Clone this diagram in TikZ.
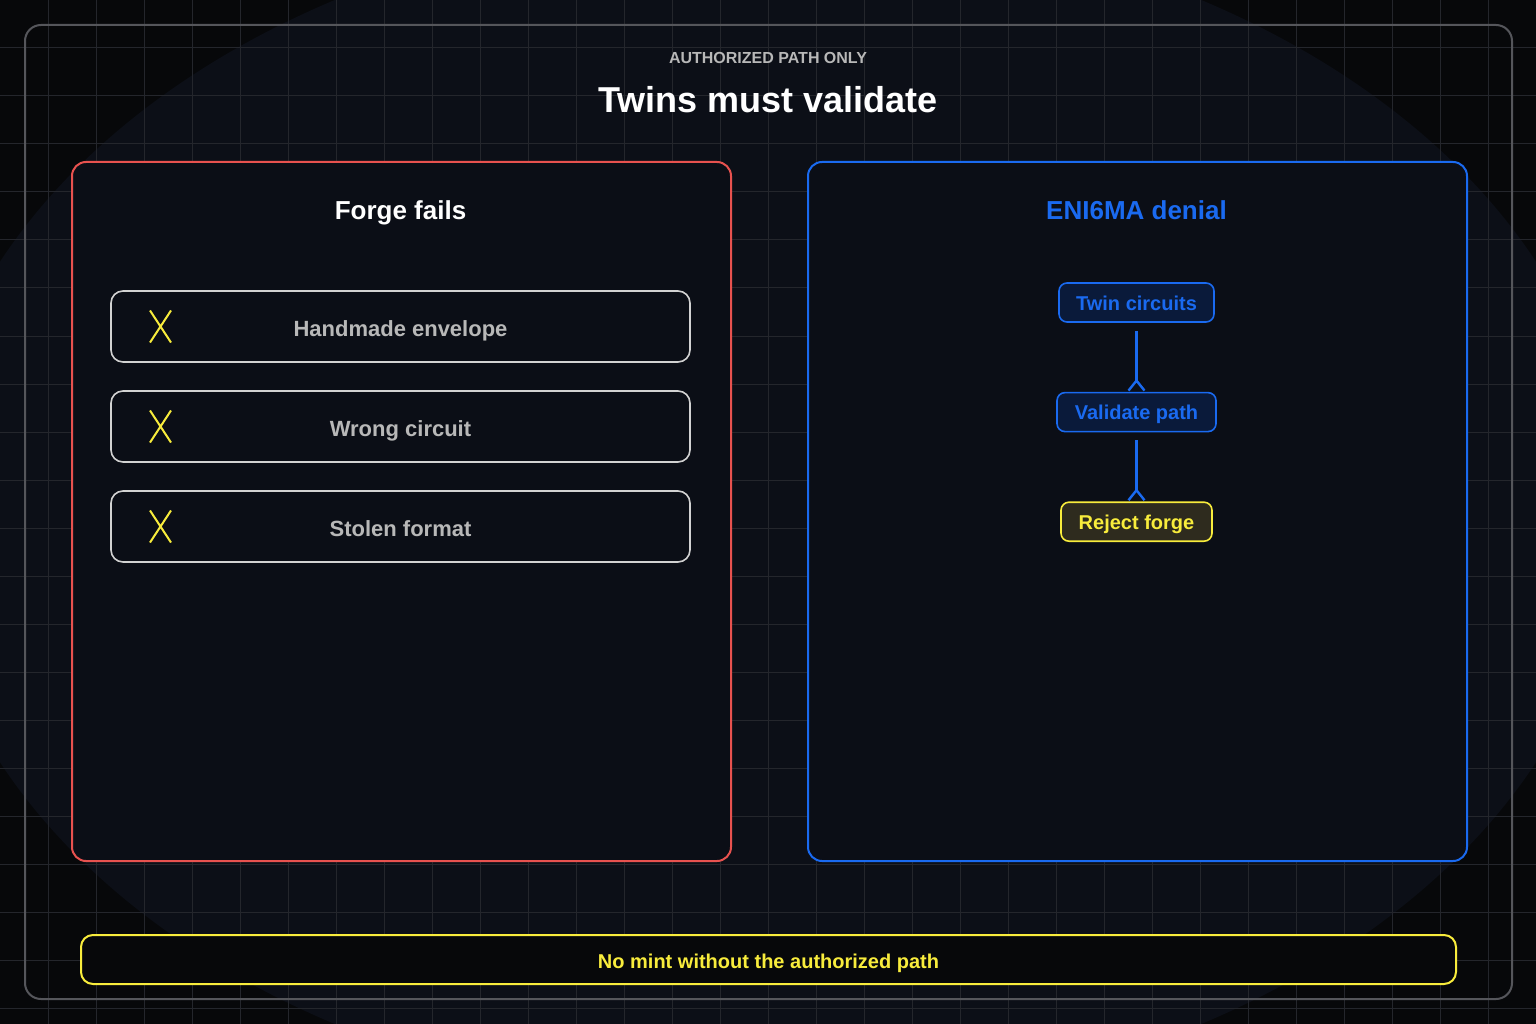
\documentclass[tikz,border=0pt]{standalone}
\usepackage{fontspec}
\setmainfont{Liberation Sans}
\usetikzlibrary{arrows.meta,positioning}
\definecolor{bgdark}{HTML}{07080A}
\definecolor{bgglow}{HTML}{0C0F17}
\definecolor{gridln}{HTML}{24262C}
\definecolor{framegray}{HTML}{55565B}
\definecolor{panelfill}{HTML}{0B0E16}
\definecolor{forgered}{HTML}{E8524F}
\definecolor{denyblue}{HTML}{1A6AF0}
\definecolor{denyfill}{HTML}{0A1A3A}
\definecolor{markyellow}{HTML}{F8EC3C}
\definecolor{rejectfill}{HTML}{2E2B1E}
\definecolor{itemgray}{HTML}{D2D2D2}
\definecolor{textgray}{HTML}{B8B8B8}

\begin{document}
\begin{tikzpicture}[x=1pt,y=-1pt,
      panel/.style={draw,rounded corners=14pt,line width=2pt,fill=panelfill,
        minimum width=659pt,minimum height=699pt,anchor=north west},
      head/.style={text height=19pt,text depth=0pt,font=\bfseries\fontsize{26}{30}\selectfont},
      item/.style={draw=itemgray,rounded corners=12pt,line width=1.6pt,fill=panelfill,
        minimum width=579pt,minimum height=71pt,text=textgray,text height=20pt,text depth=0pt,
        font=\bfseries\fontsize{22}{26}\selectfont},
      xmark/.style={draw=markyellow,line width=2pt},
      flow/.style={draw=denyblue,fill=denyfill,text=denyblue,rounded corners=8pt,
        line width=1.6pt,minimum height=39pt,text height=15pt,text depth=0pt,
        font=\bfseries\fontsize{20}{24}\selectfont},
      arr/.style={-{Straight Barb[reversed,length=10pt,width=16pt]},line width=2.4pt,draw=denyblue}]
    % backdrop
    \useasboundingbox (0,0) rectangle (1536,1024);
    \clip (0,0) rectangle (1536,1024);
    \fill[bgdark] (0,0) rectangle (1536,1024);
    \fill[bgglow] (768,512) ellipse [x radius=846pt,y radius=596pt];
    \foreach \gx in {48,96,...,1500} \draw[gridln,line width=1pt] (\gx,0) -- (\gx,1024);
    \foreach \gy in {48,96,...,1008} \draw[gridln,line width=1pt] (0,\gy) -- (1536,\gy);
    \draw[framegray,line width=2pt,rounded corners=16pt] (25,25) rectangle (1512,999);

    \node[text=textgray,font=\bfseries\fontsize{16}{19}\selectfont] (kicker) at (768,58) {AUTHORIZED PATH ONLY};
    \node[text=white,font=\bfseries\fontsize{36}{42}\selectfont] (title) at (768,100) {Twins must validate};

    % left: forge attempts
    \node[panel,draw=forgered] (forge) at (71,161) {};
    \node[head,text=white] (forgehead) at (400.5,210) {Forge fails};
    \foreach \name/\label/\ypos in {env/Handmade envelope/326.5,circ/Wrong circuit/426.5,fmt/Stolen format/526.5} {
      \node[item] (\name) at (400.5,\ypos) {\label};
      \draw[xmark] (150,\ypos-16) -- (171,\ypos+16) (171,\ypos-16) -- (150,\ypos+16);
    }

    % right: denial path
    \node[panel,draw=denyblue] (deny) at (807,161) {};
    \node[head,text=denyblue] (denyhead) at (1136.5,210) {ENI6MA denial};
    \node[flow,minimum width=155pt] (twin) at (1136.5,302.5) {Twin circuits};
    \node[flow,minimum width=159pt,below=69pt of twin] (valid) {Validate path};
    \node[flow,draw=markyellow,fill=rejectfill,text=markyellow,minimum width=151pt,below=69pt of valid] (reject) {Reject forge};
    \draw[arr,shorten <=8pt] (twin) -- (valid);
    \draw[arr,shorten <=8pt] (valid) -- (reject);

    \node[draw=markyellow,line width=2pt,rounded corners=12pt,fill=bgdark,text=markyellow,
      minimum width=1375pt,minimum height=49pt,text height=18pt,text depth=0pt,
      font=\bfseries\fontsize{20}{24}\selectfont]
      (motto) at (768.5,959.5) {No mint without the authorized path};
  \end{tikzpicture}
\end{document}
